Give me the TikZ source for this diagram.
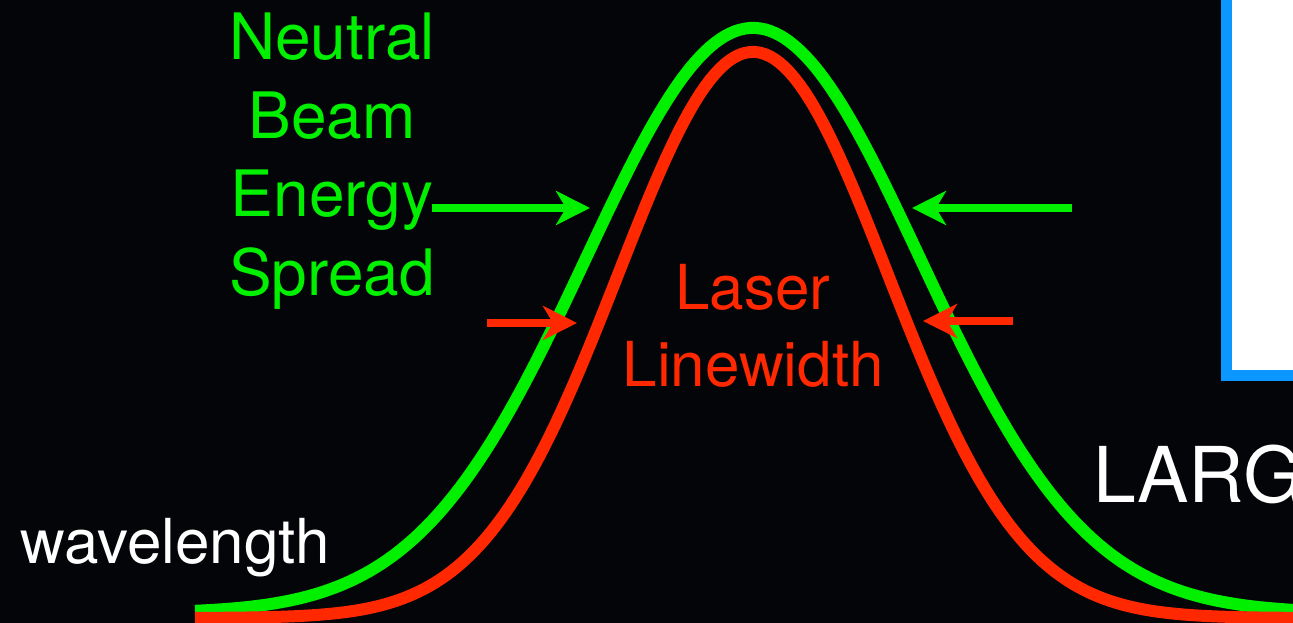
\documentclass[tikz,border=0pt]{standalone}
\usepackage{fontspec}
\setmainfont{TeX Gyre Heros}
\usetikzlibrary{arrows.meta}
\definecolor{bg}{RGB}{4,5,8}
\definecolor{ngreen}{RGB}{0,240,0}
\definecolor{lred}{RGB}{255,40,0}
\definecolor{pblue}{RGB}{12,150,255}
\begin{document}
\begin{tikzpicture}[x=1pt,y=-1pt,
  curve/.style={line width=12pt},
  arr/.style={line width=7.5pt,-{Stealth[length=34pt,width=34pt,inset=10pt]}},
  lbl/.style={inner sep=0pt,align=center}]
\fill[bg] (0,0) rectangle (1293,623);
\useasboundingbox (0,0) rectangle (1293,623);
\begin{scope}
\clip (0,0) rectangle (1293,623);
% blue framed box (cut by the right and top edges)
\draw[pblue,fill=white,line width=11pt] (1226,-30) rectangle (1330,375);
% curves
\draw[curve,ngreen] plot[domain=195:1300,samples=222]
  (\x,{613-585*exp(-0.5*((\x-753)/167)^2)});
\draw[curve,lred] plot[domain=195:1300,samples=222]
  (\x,{618-566*exp(-0.5*((\x-753)/135)^2)});
\node[inner sep=0pt,anchor=base west,text=white,font=\fontsize{77}{80}\selectfont] (large) at (1093,502) {LARG};
\end{scope}
% labels
\node[lbl,anchor=north,text=ngreen,font=\fontsize{64}{78.5}\selectfont] (nbes) at (332,13)
  {Neutral\\Beam\\Energy\\Spread};
\node[lbl,anchor=north,text=lred,font=\fontsize{62}{77}\selectfont] (llw) at (753,264)
  {Laser\\Linewidth};
\node[inner sep=0pt,anchor=base west,text=white,font=\fontsize{62}{70}\selectfont] (wl) at (20,563) {wavelength};
% arrows
\coordinate (g1s) at (432,208);
\coordinate (g1e) at (590,208);
\coordinate (g2s) at (1072,208);
\coordinate (g2e) at (912,208);
\coordinate (r1s) at (487,323);
\coordinate (r1e) at (577,323);
\coordinate (r2s) at (1013,321);
\coordinate (r2e) at (923,321);
\draw[arr,ngreen] (g1s) -- (g1e);
\draw[arr,ngreen] (g2s) -- (g2e);
\draw[arr,lred] (r1s) -- (r1e);
\draw[arr,lred] (r2s) -- (r2e);
\end{tikzpicture}
\end{document}
